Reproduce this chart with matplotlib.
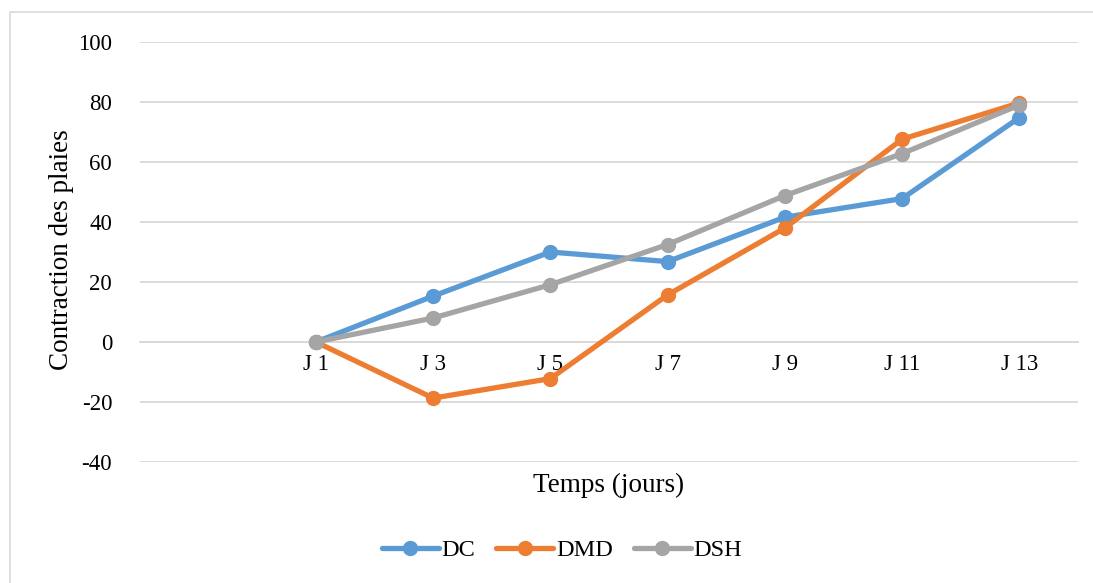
import numpy as np
import matplotlib
matplotlib.use("Agg")
import matplotlib.pyplot as plt
from matplotlib.patches import Rectangle

plt.rcParams['font.family'] = ['Liberation Serif', 'DejaVu Serif']

# Day categories (the first slot is an empty category)
categories = ["", "J 1", "J 3", "J 5", "J 7", "J 9", "J 11", "J 13"]
dc = [np.nan, 0, 15.3, 30.0, 26.8, 41.6, 47.8, 74.8]
dmd = [np.nan, 0, -18.7, -12.2, 15.7, 38.0, 67.6, 79.7]
dsh = [np.nan, 0, 8.0, 19.1, 32.5, 48.8, 62.8, 79.0]
y_ticks = [-40, -20, 0, 20, 40, 60, 80, 100]

series = [("DC", dc, "#5B9BD5"), ("DMD", dmd, "#ED7D31"), ("DSH", dsh, "#A5A5A5")]

W, H = 1093, 583
fig = plt.figure(figsize=(W / 100, H / 100), dpi=100)
fig.patch.set_facecolor("white")

# outer chart frame
fig.patches.append(Rectangle((10 / W, -0.1), 1.2, 1 - 12 / H + 0.1,
                             transform=fig.transFigure, fill=False,
                             edgecolor="#D9D9D9", linewidth=1.2))

ax = fig.add_axes([140 / W, 1 - 462 / H, (1078 - 140) / W, (462 - 42) / H])
x = np.arange(len(categories))

for name, vals, color in series:
    ax.plot(x, vals, color=color, linewidth=3.8, marker="o", markersize=10,
            label=name, solid_capstyle="round", zorder=3)

ax.set_xlim(-0.5, len(categories) - 0.5)
ax.set_ylim(-40, 100)
ax.set_yticks(y_ticks)
ax.set_yticklabels([str(v) for v in y_ticks], fontsize=16.5)
ax.yaxis.grid(True, color="#D9D9D9", linewidth=1.3)
ax.set_axisbelow(True)

for s in ["top", "right", "left"]:
    ax.spines[s].set_visible(False)
ax.spines["bottom"].set_position(("data", 0))
ax.spines["bottom"].set_color("#D9D9D9")
ax.spines["bottom"].set_linewidth(1.3)

ax.set_xticks(x)
ax.set_xticklabels(categories, fontsize=16.5)
ax.tick_params(axis="x", length=0, pad=9)
ax.tick_params(axis="y", length=0, pad=20)

fig.text(609 / W, 1 - 485 / H, "Temps (jours)", ha="center", va="center", fontsize=19.5)
fig.text(62 / W, 1 - 250 / H, "Contraction des plaies", ha="center", va="center",
         rotation=90, fontsize=19.5)

fig.legend(loc="center", bbox_to_anchor=(562 / W, 1 - 550 / H), ncol=3,
           frameon=False, fontsize=17.5, handlelength=2.35, columnspacing=0.85,
           handletextpad=0.12)

fig.savefig("out.png", dpi=100)
